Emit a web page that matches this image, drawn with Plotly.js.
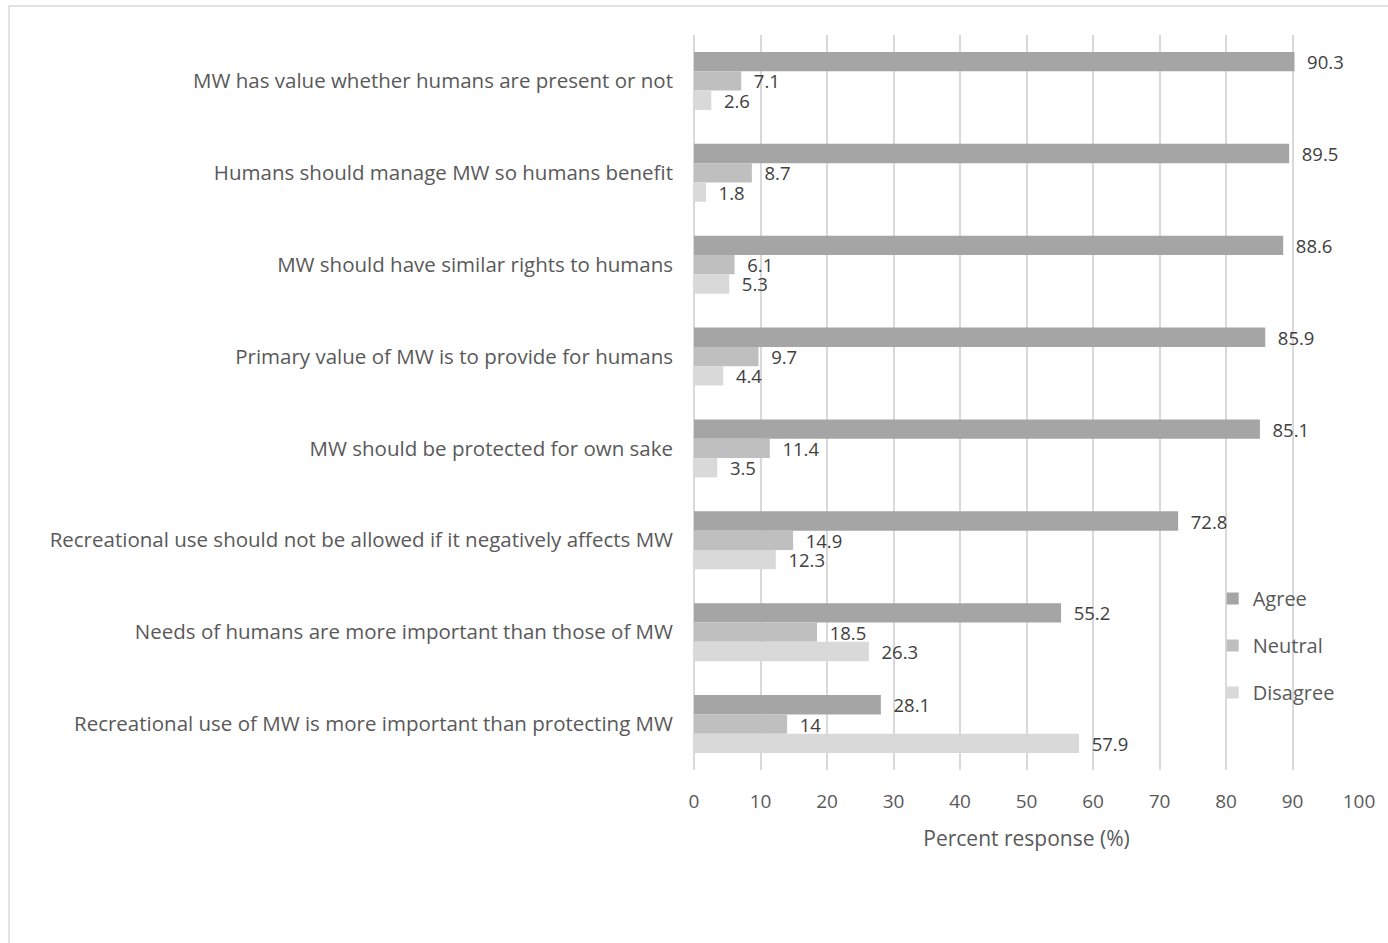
<!DOCTYPE html>
<html>
<head>
<meta charset="utf-8">
<script src="https://cdn.plot.ly/plotly-3.0.1.min.js"></script>
<style>html,body{margin:0;padding:0;background:#fff;}#chart{width:1388px;height:943px;}</style>
</head>
<body>
<div id="chart"></div>
<script>
const categories = [
  "MW has value whether humans are present or not",
  "Humans should manage MW so humans benefit",
  "MW should have similar rights to humans",
  "Primary value of MW is to provide for humans",
  "MW should be protected for own sake",
  "Recreational use should not be allowed if it negatively affects MW",
  "Needs of humans are more important than those of MW",
  "Recreational use of MW is more important than protecting MW"
];
const agree =    [90.3, 89.5, 88.6, 85.9, 85.1, 72.8, 55.2, 28.1];
const neutral =  [7.1, 8.7, 6.1, 9.7, 11.4, 14.9, 18.5, 14];
const disagree = [2.6, 1.8, 5.3, 4.4, 3.5, 12.3, 26.3, 57.9];
const seriesNames = ["Agree", "Neutral", "Disagree"];
const xTicks = [0,10,20,30,40,50,60,70,80,90,100];

const FONT = "Open Sans, Lato, sans-serif";
const colors = ["#a5a5a5", "#bfbfbf", "#d9d9d9"];
const data = [agree, neutral, disagree].map((vals, i) => ({
  type: "bar",
  orientation: "h",
  name: seriesNames[i],
  legendgroup: seriesNames[i],
  y: categories,
  x: vals,
  marker: {color: colors[i]},
  text: vals.map(v => "\u00a0\u00a0" + String(v)),
  textposition: "outside",
  constraintext: "none",
  cliponaxis: false,
  textfont: {family: FONT, size: 18.5, color: "#404040"},
  hoverinfo: "x+name"
}));

const layout = {
  width: 1388, height: 943,
  margin: {l: 694, r: 29, t: 35, b: 173},
  paper_bgcolor: "#fff",
  plot_bgcolor: "#fff",
  barmode: "group",
  bargap: 0.37,
  bargroupgap: 0,
  font: {family: FONT, size: 20, color: "#595959"},
  xaxis: {
    range: [0, 100],
    tickvals: xTicks,
    ticktext: xTicks.map(String),
    showgrid: true,
    gridcolor: "#d9d9d9",
    gridwidth: 2,
    zeroline: true,
    zerolinecolor: "#d9d9d9",
    zerolinewidth: 2,
    showline: false,
    ticks: "",
    ticklen: 0,
    ticklabelstandoff: 18,
    tickfont: {family: FONT, size: 19, color: "#595959"},
    title: {text: "Percent response (%)", font: {family: FONT, size: 21, color: "#595959"}, standoff: 18},
    fixedrange: true
  },
  yaxis: {
    autorange: "reversed",
    showgrid: false,
    showline: false,
    zeroline: false,
    ticks: "",
    ticklabelstandoff: 20,
    tickfont: {family: FONT, size: 20.5, color: "#595959"},
    fixedrange: true
  },
  legend: {
    x: 0.78, y: 0.26, xanchor: "left", yanchor: "top",
    traceorder: "grouped",
    tracegroupgap: 18,
    font: {family: FONT, size: 20, color: "#595959"},
    bgcolor: "rgba(0,0,0,0)",
    itemwidth: 30
  },
  showlegend: true,
  shapes: [{
    type: "rect", xref: "paper", yref: "paper",
    x0: -1.030, x1: 1.2, y0: -0.4, y1: 1.0395,
    line: {color: "#d9d9d9", width: 1.5},
    fillcolor: "rgba(0,0,0,0)",
    layer: "below"
  }]
};

Plotly.newPlot("chart", data, layout, {displayModeBar: false, staticPlot: true});
</script>
</body>
</html>
